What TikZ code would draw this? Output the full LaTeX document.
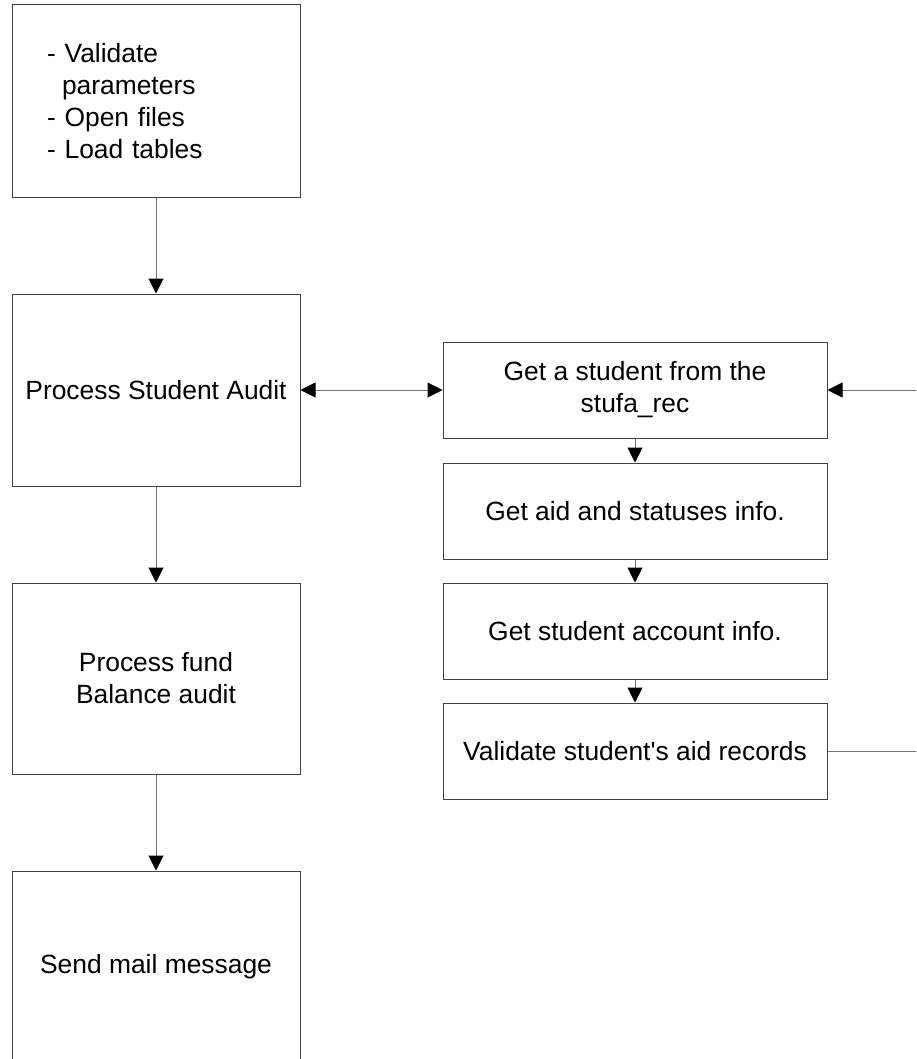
\documentclass[tikz,border=0pt]{standalone}
\usepackage{fontspec}
\setmainfont{Liberation Sans}
\usetikzlibrary{arrows.meta}
\begin{document}
\begin{tikzpicture}[x=1pt,y=-1pt,
    main/.style = {draw=black!75, line width=1pt, rectangle, inner sep=0pt, align=center, font=\fontsize{26.4}{32}\selectfont},
    lbox/.style = {main, minimum width=288pt, minimum height=192pt},
    rbox/.style = {main, minimum width=384pt, minimum height=96pt},
    conn/.style = {draw=black!55, line width=1pt},
    >={Triangle[length=15pt,width=15pt,color=black]}]
        \clip (0,0) rectangle (916,1059);
        \node[lbox, minimum height=193pt, inner xsep=35pt, text width=218pt, align=left] (1) at (156,101.5) {- Validate\\\hspace*{15pt}parameters\\- Open files\\- Load tables};
        \node[lbox] (2) at (156,390) {Process Student Audit};
        \node[lbox, minimum height=191pt] (3) at (156,678.5) {Process fund\\Balance audit};
        \node[lbox, minimum height=191pt] (4) at (156,966.5) {Send mail message};
        \node[rbox] (5) at (635,390) {Get a student from the\\stufa\_rec};
        \node[rbox] (6) at (635,511) {Get aid and statuses info.};
        \node[rbox] (7) at (635,631) {Get student account info.};
        \node[rbox] (8) at (635,751) {Validate student\textquotesingle s aid records};
        \coordinate (back) at (920,751);
        \draw[conn, ->] (1) -> (2);
        \draw[conn, ->] (2) -> (3);
        \draw[conn, ->] (3) -> (4);
        \draw[conn, <->] (2) -> (5);
        \draw[conn, ->] (5) -> (6);
        \draw[conn, ->] (6) -> (7);
        \draw[conn, ->] (7) -> (8);
        \draw[conn, ->] (8) -- (back) |- (5.east);
\end{tikzpicture}
\end{document}
